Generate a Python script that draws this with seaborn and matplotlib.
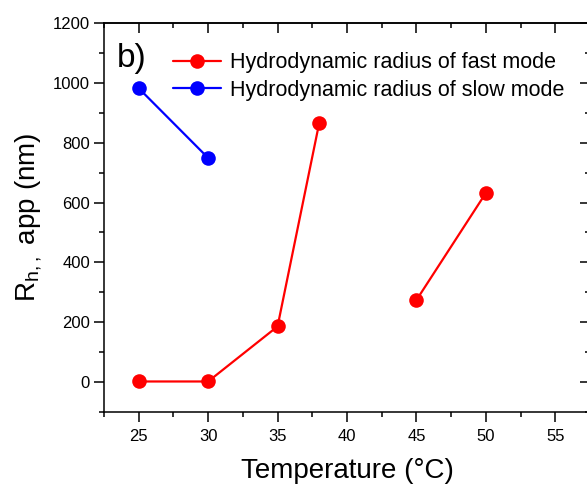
import numpy as np
import pandas as pd
import matplotlib
matplotlib.use("Agg")
import matplotlib.pyplot as plt
from matplotlib.lines import Line2D
from matplotlib.ticker import MultipleLocator
import seaborn as sns

# ---- data ----
fast_temp = [25, 30, 35, 38, 45, 50]
fast_rh = [2, 2, 186, 866, 274, 632]
fast_segment = [0, 0, 0, 0, 1, 1]
slow_temp = [25, 30]
slow_rh = [982, 749]
slow_segment = [2, 2]
mode_labels = ["Hydrodynamic radius of fast mode", "Hydrodynamic radius of slow mode"]
mode_colors = ["#FF0000", "#0000FF"]
x_ticks = [25, 30, 35, 40, 45, 50, 55]
y_ticks = [0, 200, 400, 600, 800, 1000, 1200]

df = pd.DataFrame({
    "T": fast_temp + slow_temp,
    "Rh": fast_rh + slow_rh,
    "mode": [mode_labels[0]] * len(fast_temp) + [mode_labels[1]] * len(slow_temp),
    "seg": fast_segment + slow_segment,
})

sns.set_style("ticks")
plt.rcParams["font.family"] = ["Liberation Sans", "DejaVu Sans"]
plt.rcParams["mathtext.fontset"] = "custom"
plt.rcParams["mathtext.rm"] = "Liberation Sans"
plt.rcParams["text.color"] = "black"
plt.rcParams["axes.labelcolor"] = "black"
plt.rcParams["xtick.color"] = "black"
plt.rcParams["ytick.color"] = "black"

fig = plt.figure(figsize=(5.87, 4.91), dpi=100)
ax = fig.add_axes([104 / 587, 79 / 491, 486 / 587, 389 / 491])

palette = dict(zip(mode_labels, mode_colors))
sns.lineplot(data=df, x="T", y="Rh", hue="mode", units="seg", estimator=None,
             palette=palette, marker="o", markersize=10.5, markeredgewidth=0,
             linewidth=1.6, sort=False, legend=False, ax=ax)

ax.set_xlim(22.5, 57.5)
ax.set_ylim(-100, 1200)
ax.set_xticks(x_ticks)
ax.set_yticks(y_ticks)
ax.xaxis.set_minor_locator(MultipleLocator(2.5))
ax.yaxis.set_minor_locator(MultipleLocator(100))

for sp in ax.spines.values():
    sp.set_visible(True)
    sp.set_linewidth(1.1)
    sp.set_color("black")

ax.tick_params(which="major", direction="out", length=7, width=1.1, labelsize=12,
               colors="black", labelcolor="black", top=False, right=False)
ax.tick_params(which="minor", direction="out", length=3.5, width=1.1,
               colors="black", top=False, right=False)
ax.tick_params(axis="x", pad=5)
ax.tick_params(axis="y", pad=3)

# mirrored inward ticks on top and right
secx = ax.secondary_xaxis("top")
secx.set_xticks(x_ticks)
secx.xaxis.set_minor_locator(MultipleLocator(2.5))
secx.tick_params(which="major", direction="in", length=7, width=1.1, labeltop=False, colors="black")
secx.tick_params(which="minor", direction="in", length=3.5, width=1.1, colors="black")
secx.spines["top"].set_linewidth(1.1)
secx.spines["top"].set_color("black")
secy = ax.secondary_yaxis("right")
secy.set_yticks(y_ticks)
secy.yaxis.set_minor_locator(MultipleLocator(100))
secy.tick_params(which="major", direction="in", length=7, width=1.1, labelright=False, colors="black")
secy.tick_params(which="minor", direction="in", length=3.5, width=1.1, colors="black")
secy.spines["right"].set_linewidth(1.1)
secy.spines["right"].set_color("black")

ax.set_xlabel("Temperature (°C)", fontsize=20, labelpad=10, color="black")
ax.set_ylabel(r"R$_{\mathregular{h,,}}$ app (nm)", fontsize=20, labelpad=6, color="black")

handles = [Line2D([0], [0], color=c, marker="o", markersize=10.5, markeredgewidth=0,
                  linewidth=1.6) for c in mode_colors]
leg = ax.legend(handles, mode_labels, loc="upper left", bbox_to_anchor=(0.142, 0.925),
                frameon=False, fontsize=15.5, handlelength=2.25, handletextpad=0.4,
                labelspacing=0.3, borderpad=0, borderaxespad=0)
for t in leg.get_texts():
    t.set_color("black")

ax.text(0.027, 0.908, "b)", transform=ax.transAxes, fontsize=24,
        ha="left", va="center", color="black")

fig.savefig("out.png", dpi=100)
